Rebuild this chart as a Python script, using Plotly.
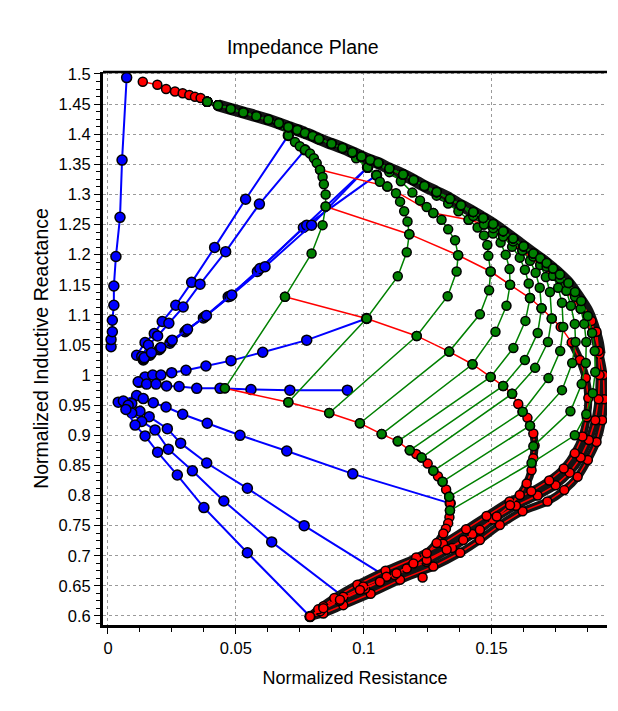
import plotly.graph_objects as go

# ---------------- data ----------------
X_TICKS = [0, 0.05, 0.1, 0.15]
X_TICK_TEXT = ["0", "0.05", "0.1", "0.15"]
Y_TICKS = [0.6, 0.65, 0.7, 0.75, 0.8, 0.85, 0.9, 0.95, 1.0, 1.05, 1.1, 1.15, 1.2,
           1.25, 1.3, 1.35, 1.4, 1.45, 1.5]
Y_TICK_TEXT = ["0.6", "0.65", "0.7", "0.75", "0.8", "0.85", "0.9", "0.95", "1", "1.05",
               "1.1", "1.15", "1.2", "1.25", "1.3", "1.35", "1.4", "1.45", "1.5"]

# blue family
BLUE_V_X = [0.0012, 0.0012, 0.0017, 0.0017, 0.0023, 0.0023, 0.0031, 0.0047, 0.0055, 0.0073]
BLUE_V_Y = [1.047, 1.059, 1.072, 1.091, 1.116, 1.148, 1.197, 1.262, 1.357, 1.494]
BLUE_U1_X = [0.0112, 0.0145, 0.0181, 0.0212, 0.0265, 0.0327, 0.0417, 0.0538, 0.0705]
BLUE_U1_Y = [1.033, 1.054, 1.069, 1.089, 1.116, 1.154, 1.212, 1.292, 1.398]
BLUE_U2_X = [0.0132, 0.0158, 0.0194, 0.0238, 0.0294, 0.0360, 0.0460, 0.0592, 0.0770]
BLUE_U2_Y = [1.031, 1.050, 1.065, 1.086, 1.113, 1.151, 1.205, 1.284, 1.374]
BLUE_U3_X = [0.0138, 0.0164, 0.0200, 0.0242, 0.0301, 0.0373, 0.0470, 0.0584, 0.0764, 0.1015]
BLUE_U3_Y = [1.025, 1.033, 1.042, 1.053, 1.072, 1.095, 1.130, 1.172, 1.245, 1.345]
BLUE_U4_X = [0.0140, 0.0167, 0.0204, 0.0247, 0.0306, 0.0379, 0.0477, 0.0594, 0.0777, 0.1050]
BLUE_U4_Y = [1.027, 1.035, 1.044, 1.056, 1.074, 1.097, 1.131, 1.177, 1.249, 1.332]
BLUE_U5_X = [0.0142, 0.0170, 0.0207, 0.0251, 0.0311, 0.0385, 0.0484, 0.0614, 0.0796, 0.1015]
BLUE_U5_Y = [1.029, 1.037, 1.046, 1.058, 1.076, 1.099, 1.133, 1.180, 1.249, 1.345]
BLUE_M1_X = [0.0122, 0.0145, 0.0175, 0.0207, 0.0249, 0.0305, 0.0383, 0.0481, 0.0605, 0.0777, 0.1011]
BLUE_M1_Y = [0.988, 0.997, 1.000, 1.000, 1.004, 1.008, 1.015, 1.024, 1.038, 1.058, 1.094]
BLUE_M2_X = [0.0118, 0.0151, 0.0188, 0.0229, 0.0278, 0.0347, 0.0438, 0.0559, 0.0711, 0.0936]
BLUE_M2_Y = [0.989, 0.985, 0.985, 0.982, 0.981, 0.978, 0.978, 0.976, 0.975, 0.975]
BLUE_L1_X = [0.0040, 0.0112, 0.0138, 0.0177, 0.0227, 0.0292, 0.0388, 0.0516, 0.0699, 0.0957, 0.1338]
BLUE_L1_Y = [0.955, 0.966, 0.961, 0.954, 0.947, 0.935, 0.920, 0.900, 0.874, 0.836, 0.787]
BLUE_L2_X = [0.0060, 0.0093, 0.0125, 0.0161, 0.0232, 0.0284, 0.0386, 0.0545, 0.0767, 0.1089]
BLUE_L2_Y = [0.957, 0.953, 0.940, 0.931, 0.911, 0.887, 0.854, 0.812, 0.750, 0.665]
BLUE_L3_X = [0.0079, 0.0093, 0.0132, 0.0184, 0.0236, 0.0330, 0.0453, 0.0640, 0.0920]
BLUE_L3_Y = [0.950, 0.937, 0.923, 0.909, 0.877, 0.841, 0.791, 0.723, 0.632]
BLUE_L4_X = [0.0070, 0.0106, 0.0145, 0.0194, 0.0271, 0.0375, 0.0545, 0.0790]
BLUE_L4_Y = [0.943, 0.917, 0.899, 0.872, 0.834, 0.780, 0.705, 0.599]

# green family: shared upper arc + individual descending tails
GREEN_ARC_X = [0.0388, 0.0430, 0.0480, 0.0529, 0.0580, 0.0627, 0.0668, 0.0705, 0.0740, 0.0770,
               0.0800, 0.0825, 0.0874, 0.0917, 0.0955, 0.0991, 0.1025, 0.1057, 0.1100, 0.1154,
               0.1195, 0.1237, 0.1285, 0.1337, 0.1380, 0.1428, 0.1467, 0.1506, 0.1545, 0.1584,
               0.1625, 0.1663, 0.1690, 0.1715, 0.1740, 0.1767, 0.1800, 0.1826, 0.1850, 0.1876,
               0.1890, 0.1904, 0.1915, 0.1922]
GREEN_ARC_Y = [1.454, 1.448, 1.442, 1.436, 1.430, 1.424, 1.418, 1.412, 1.407, 1.402,
               1.397, 1.392, 1.384, 1.377, 1.370, 1.363, 1.357, 1.352, 1.343, 1.333,
               1.324, 1.314, 1.304, 1.293, 1.282, 1.271, 1.261, 1.251, 1.239, 1.227,
               1.214, 1.202, 1.194, 1.186, 1.177, 1.167, 1.153, 1.138, 1.123, 1.105,
               1.090, 1.072, 1.055, 1.035]
GREEN_JOIN = [7, 14, 18, 22, 25, 27, 29, 31, 33, 35, 37, 39]
G1_X = [0.0705, 0.0731, 0.0750, 0.0770, 0.0790, 0.0805, 0.0816, 0.0829, 0.0839, 0.0844, 0.0851, 0.0851, 0.0839, 0.0796, 0.0692, 0.0457]
G1_Y = [1.398, 1.387, 1.380, 1.374, 1.368, 1.360, 1.352, 1.341, 1.329, 1.317, 1.300, 1.280, 1.249, 1.202, 1.130, 0.978]
G2_X = [0.0970, 0.1015, 0.1050, 0.1063, 0.1092, 0.1126, 0.1142, 0.1158, 0.1171, 0.1178, 0.1168, 0.1133, 0.1011, 0.0705]
G2_Y = [1.360, 1.345, 1.332, 1.321, 1.313, 1.302, 1.288, 1.272, 1.255, 1.234, 1.204, 1.164, 1.094, 0.955]
G3_X = [0.1100, 0.1145, 0.1190, 0.1220, 0.1246, 0.1272, 0.1304, 0.1330, 0.1357, 0.1369, 0.1363, 0.1328, 0.1207, 0.0865]
G3_Y = [1.337, 1.322, 1.303, 1.290, 1.279, 1.269, 1.258, 1.242, 1.224, 1.199, 1.172, 1.131, 1.065, 0.937]
G4_X = [0.1285, 0.1330, 0.1370, 0.1410, 0.1445, 0.1470, 0.1483, 0.1487, 0.1496, 0.1490, 0.1454, 0.1334, 0.0985]
G4_Y = [1.298, 1.285, 1.272, 1.258, 1.245, 1.232, 1.216, 1.198, 1.172, 1.141, 1.101, 1.039, 0.920]
G5_X = [0.1428, 0.1470, 0.1505, 0.1535, 0.1555, 0.1570, 0.1572, 0.1558, 0.1515, 0.1425, 0.1070]
G5_Y = [1.264, 1.250, 1.235, 1.220, 1.200, 1.176, 1.150, 1.115, 1.072, 1.018, 0.902]
G6_X = [0.1506, 0.1545, 0.1580, 0.1610, 0.1630, 0.1645, 0.1650, 0.1632, 0.1585, 0.1496, 0.1133]
G6_Y = [1.244, 1.230, 1.213, 1.195, 1.175, 1.152, 1.128, 1.090, 1.045, 0.997, 0.890]
G7_X = [0.1584, 0.1620, 0.1650, 0.1672, 0.1688, 0.1695, 0.1680, 0.1630, 0.1545, 0.1180]
G7_Y = [1.222, 1.207, 1.190, 1.170, 1.145, 1.111, 1.070, 1.025, 0.982, 0.875]
G8_X = [0.1663, 0.1690, 0.1712, 0.1728, 0.1735, 0.1720, 0.1670, 0.1580, 0.1226]
G8_Y = [1.197, 1.183, 1.163, 1.138, 1.094, 1.055, 1.012, 0.969, 0.863]
G9_X = [0.1715, 0.1740, 0.1760, 0.1775, 0.1780, 0.1768, 0.1722, 0.1621, 0.1272]
G9_Y = [1.180, 1.165, 1.145, 1.120, 1.080, 1.040, 0.995, 0.939, 0.841]
G10_X = [0.1767, 0.1792, 0.1810, 0.1825, 0.1828, 0.1815, 0.1775, 0.1650, 0.1308]
G10_Y = [1.160, 1.140, 1.115, 1.085, 1.055, 1.020, 0.975, 0.916, 0.823]
G11_X = [0.1826, 0.1848, 0.1862, 0.1870, 0.1868, 0.1852, 0.1808, 0.1663, 0.1334]
G11_Y = [1.130, 1.110, 1.085, 1.055, 1.020, 0.985, 0.940, 0.882, 0.798]
G12_X = [0.1876, 0.1893, 0.1903, 0.1905, 0.1895, 0.1870, 0.1825, 0.1656, 0.1337]
G12_Y = [1.098, 1.070, 1.040, 1.005, 0.970, 0.935, 0.900, 0.854, 0.775]

# red family
RED_ENV_X = [0.0136, 0.0193, 0.0227, 0.0262, 0.0292, 0.0318, 0.0340, 0.0362, 0.0388,
             0.0480, 0.0580, 0.0668, 0.0740, 0.0800, 0.0874, 0.0955, 0.1025, 0.1100, 0.1195,
             0.1285, 0.1380, 0.1467, 0.1545, 0.1625, 0.1690, 0.1740, 0.1800, 0.1850, 0.1890,
             0.1922, 0.1937, 0.1940, 0.1932, 0.1910, 0.1876, 0.1836, 0.1784, 0.1718,
             0.1621, 0.1532, 0.1454, 0.1377, 0.1272, 0.1142, 0.1027, 0.0920, 0.0842, 0.0790]
RED_ENV_Y = [1.487, 1.482, 1.475, 1.471, 1.468, 1.465, 1.462, 1.460, 1.454,
             1.442, 1.430, 1.418, 1.407, 1.397, 1.384, 1.370, 1.357, 1.343, 1.324,
             1.304, 1.282, 1.261, 1.239, 1.214, 1.194, 1.177, 1.153, 1.123, 1.090,
             1.035, 1.000, 0.960, 0.925, 0.889, 0.859, 0.831, 0.809, 0.790,
             0.774, 0.751, 0.726, 0.705, 0.682, 0.660, 0.637, 0.618, 0.604, 0.599]
RED_A_X = [0.0829, 0.1092, 0.1272, 0.1410, 0.1470, 0.1545, 0.1620, 0.1690, 0.1740, 0.1792,
           0.1848, 0.1893, 0.1910, 0.1918, 0.1922, 0.1918, 0.1905, 0.1880, 0.1848, 0.1805,
           0.1750, 0.1680, 0.1595, 0.1505, 0.1425, 0.1345, 0.1245, 0.1120, 0.1005, 0.0905,
           0.0830, 0.0790]
RED_A_Y = [1.341, 1.313, 1.269, 1.258, 1.250, 1.230, 1.207, 1.183, 1.165, 1.140,
           1.110, 1.070, 1.072, 1.040, 1.000, 0.960, 0.925, 0.892, 0.863, 0.838,
           0.817, 0.800, 0.783, 0.760, 0.736, 0.713, 0.690, 0.668, 0.645, 0.625,
           0.608, 0.599]
RED_B_X = [0.0851, 0.1178, 0.1369, 0.1496, 0.1572, 0.1650, 0.1695, 0.1735, 0.1770, 0.1813,
           0.1845, 0.1868, 0.1878, 0.1872, 0.1855, 0.1825, 0.1782, 0.1725, 0.1655, 0.1570,
           0.1480, 0.1400, 0.1310, 0.1205, 0.1085, 0.0975, 0.0885, 0.0822, 0.0790]
RED_B_Y = [1.280, 1.234, 1.199, 1.172, 1.150, 1.128, 1.111, 1.094, 1.080, 1.054,
           1.025, 0.995, 0.962, 0.930, 0.898, 0.870, 0.845, 0.825, 0.807, 0.790,
           0.766, 0.744, 0.720, 0.697, 0.675, 0.652, 0.630, 0.611, 0.599]
RED_C_X = [0.0692, 0.1011, 0.1207, 0.1334, 0.1425, 0.1496, 0.1545, 0.1580, 0.1604, 0.1621,
           0.1640, 0.1650, 0.1663, 0.1668, 0.1663, 0.1656, 0.1637, 0.1610, 0.1572, 0.1520,
           0.1454, 0.1389, 0.1324, 0.1246, 0.1168, 0.1089, 0.0998, 0.0920, 0.0842, 0.0790]
RED_C_Y = [1.130, 1.094, 1.065, 1.039, 1.018, 0.997, 0.982, 0.969, 0.952, 0.939,
           0.929, 0.916, 0.903, 0.883, 0.862, 0.842, 0.820, 0.801, 0.784, 0.765,
           0.743, 0.726, 0.710, 0.693, 0.679, 0.665, 0.649, 0.632, 0.616, 0.599]
RED_D_X = [0.0457, 0.0705, 0.0865, 0.0985, 0.1070, 0.1133, 0.1180, 0.1205, 0.1226, 0.1250,
           0.1272, 0.1290, 0.1308, 0.1322, 0.1334, 0.1338, 0.1337, 0.1335, 0.1330, 0.1321,
           0.1311, 0.1285, 0.1246, 0.1194, 0.1128, 0.1063, 0.0985, 0.0907, 0.0842, 0.0790]
RED_D_Y = [0.978, 0.955, 0.937, 0.920, 0.902, 0.890, 0.875, 0.869, 0.863, 0.853,
           0.841, 0.832, 0.823, 0.810, 0.798, 0.787, 0.775, 0.764, 0.754, 0.745,
           0.737, 0.721, 0.704, 0.687, 0.671, 0.657, 0.643, 0.627, 0.613, 0.599]
RED_EXTRA_X = [0.1230]
RED_EXTRA_Y = [0.664]

# ---------------- figure ----------------
BLUE = "#0000FF"
RED = "#FF0000"
GREEN = "#008000"
FONT = "Liberation Sans, Arial, sans-serif"

fig = go.Figure()


def add_series(x, y, color, lw, ms):
    fig.add_trace(go.Scatter(
        x=x, y=y, mode="lines+markers",
        line=dict(color=color, width=lw),
        marker=dict(size=ms, color=color, line=dict(color="black", width=1.5)),
        showlegend=False, hoverinfo="skip"))


def add_band(x, y, w):
    fig.add_trace(go.Scatter(
        x=x, y=y, mode="lines", line=dict(color="#141414", width=w, shape="spline"),
        showlegend=False, hoverinfo="skip"))


blue_series = [(BLUE_V_X, BLUE_V_Y), (BLUE_U1_X, BLUE_U1_Y), (BLUE_U2_X, BLUE_U2_Y),
               (BLUE_U3_X, BLUE_U3_Y), (BLUE_U4_X, BLUE_U4_Y), (BLUE_U5_X, BLUE_U5_Y),
               (BLUE_M1_X, BLUE_M1_Y), (BLUE_M2_X, BLUE_M2_Y), (BLUE_L1_X, BLUE_L1_Y),
               (BLUE_L2_X, BLUE_L2_Y), (BLUE_L3_X, BLUE_L3_Y), (BLUE_L4_X, BLUE_L4_Y)]
for bx, by in blue_series:
    add_series(bx, by, BLUE, 2, 10)

# dark bands produced by the densely packed marker outlines
add_band(GREEN_ARC_X[1:], GREEN_ARC_Y[1:], 12)
add_band(RED_ENV_X[28:], RED_ENV_Y[28:], 8)
add_band(RED_A_X[11:], RED_A_Y[11:], 8)
add_band(RED_B_X[9:], RED_B_Y[9:], 8)
add_band(RED_C_X[12:], RED_C_Y[12:], 8)
add_band(RED_D_X[13:], RED_D_Y[13:], 8)

for rx, ry in [(RED_ENV_X, RED_ENV_Y), (RED_A_X, RED_A_Y), (RED_B_X, RED_B_Y),
               (RED_C_X, RED_C_Y), (RED_D_X, RED_D_Y), (RED_EXTRA_X, RED_EXTRA_Y)]:
    add_series(rx, ry, RED, 1.5, 9)

green_tails = [(G1_X, G1_Y), (G2_X, G2_Y), (G3_X, G3_Y), (G4_X, G4_Y), (G5_X, G5_Y),
               (G6_X, G6_Y), (G7_X, G7_Y), (G8_X, G8_Y), (G9_X, G9_Y), (G10_X, G10_Y),
               (G11_X, G11_Y), (G12_X, G12_Y)]
for j, (tx, ty) in zip(GREEN_JOIN, green_tails):
    add_series(GREEN_ARC_X[:j] + tx, GREEN_ARC_Y[:j] + ty, GREEN, 1.5, 9)

axis_common = dict(
    showline=True, linewidth=3, linecolor="black",
    ticks="outside", ticklen=6, tickwidth=1, tickcolor="black",
    showgrid=True, gridcolor="#9a9a9a", griddash="dot", gridwidth=1,
    zeroline=False, tickfont=dict(family=FONT, size=16.5, color="black"),
)

fig.update_layout(
    width=618, height=711,
    margin=dict(l=103, r=11, t=72, b=86),
    paper_bgcolor="white", plot_bgcolor="white",
    font=dict(family=FONT, color="black"),
    title=dict(text="Impedance Plane", x=0.49, xanchor="center", y=0.934, yanchor="middle",
               font=dict(family=FONT, size=19.5, color="black")),
    xaxis=dict(range=[-0.00195, 0.1951], tickvals=X_TICKS, ticktext=X_TICK_TEXT,
               minor=dict(dtick=0.0125, tick0=0, ticks="outside", ticklen=4,
                          tickcolor="black", showgrid=False),
               title=dict(text="Normalized Resistance", standoff=16,
                          font=dict(family=FONT, size=18, color="black")),
               **axis_common),
    yaxis=dict(range=[0.585, 1.5033], tickvals=Y_TICKS, ticktext=Y_TICK_TEXT,
               minor=dict(dtick=0.0125, tick0=0.6, ticks="outside", ticklen=4,
                          tickcolor="black", showgrid=False),
               title=dict(text="Normalized Inductive Reactance", standoff=5,
                          font=dict(family=FONT, size=19.5, color="black")),
               **axis_common),
    shapes=[dict(type="line", xref="paper", yref="paper", x0=0, x1=1, y0=1, y1=1,
                 line=dict(color="black", width=2.5))],
)

fig.write_html("out.html")
